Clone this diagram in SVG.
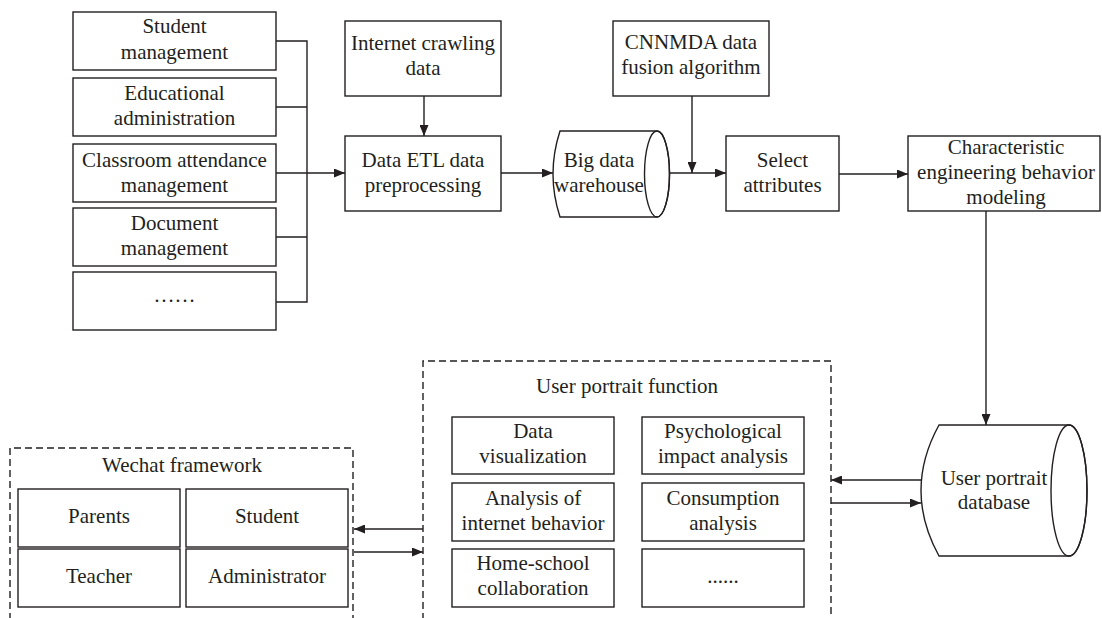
<svg xmlns="http://www.w3.org/2000/svg" width="1102" height="618" viewBox="0 0 1102 618">
<defs>
<marker id="arr" markerUnits="userSpaceOnUse" markerWidth="11" markerHeight="9" refX="11" refY="4.5" orient="auto">
<path d="M0,0 L11,4.5 L0,9 z" fill="#231f20"/>
</marker>
<style>
.box{fill:#fff;stroke:#231f20;stroke-width:1.4}
.dash{fill:none;stroke:#231f20;stroke-width:1.4;stroke-dasharray:7 4}
.ln{fill:none;stroke:#231f20;stroke-width:1.4}
.arw{fill:none;stroke:#231f20;stroke-width:1.4;marker-end:url(#arr)}
text{font-size:21px;fill:#231f20;text-anchor:middle}
</style>
</defs>
<rect width="1102" height="618" fill="#fff"/>

<g id="connectors">
<path class="ln" d="M276,41 H307 V302 H276 M276,107 H307 M276,237 H307"/>
<path class="arw" d="M276,173 H345"/>
<path class="arw" d="M424,96 V136"/>
<path class="arw" d="M501,173 H553"/>
<path class="arw" d="M670,173 H726"/>
<path class="arw" d="M692,96 V173"/>
<path class="arw" d="M839,174 H908"/>
<path class="arw" d="M986,211 V425"/>
<path class="arw" d="M921,480 H831"/>
<path class="arw" d="M831,503 H921"/>
<path class="arw" d="M423,529 H354"/>
<path class="arw" d="M354,552 H423"/>
</g>

<g font-family="'Liberation Serif', 'DejaVu Serif', serif">
<g id="student-management"><rect class="box" x="73" y="12" width="203" height="58"/><text x="174.5" y="33">Student</text><text x="174.5" y="59">management</text></g>
<g id="educational-administration"><rect class="box" x="73" y="78" width="203" height="58"/><text x="174.5" y="100">Educational</text><text x="174.5" y="125">administration</text></g>
<g id="classroom-attendance"><rect class="box" x="73" y="144" width="203" height="58"/><text x="174.5" y="167">Classroom attendance</text><text x="174.5" y="192">management</text></g>
<g id="document-management"><rect class="box" x="73" y="208" width="203" height="58"/><text x="174.5" y="230">Document</text><text x="174.5" y="255">management</text></g>
<g id="more-sources"><rect class="box" x="73" y="272" width="203" height="58"/><text x="174.5" y="302">……</text></g>

<g id="internet-crawling"><rect class="box" x="345" y="21" width="156" height="75"/><text x="423" y="50">Internet crawling</text><text x="423" y="75">data</text></g>
<g id="data-etl"><rect class="box" x="345" y="136" width="156" height="75"/><text x="423" y="167">Data ETL data</text><text x="423" y="192">preprocessing</text></g>

<g id="big-data-warehouse">
<path class="box" d="M560,131 L657,131 A12.5,43 0 0 1 657,217 L560,217 Q546,174 560,131 Z"/>
<ellipse class="ln" cx="657" cy="174" rx="12.5" ry="43"/>
<text x="599" y="167">Big data</text><text x="599" y="192">warehouse</text>
</g>

<g id="cnnmda"><rect class="box" x="613" y="21" width="156" height="75"/><text x="691" y="49">CNNMDA data</text><text x="691" y="74">fusion algorithm</text></g>
<g id="select-attributes"><rect class="box" x="726" y="136" width="113" height="75"/><text x="782.5" y="167">Select</text><text x="782.5" y="192">attributes</text></g>
<g id="characteristic-modeling"><rect class="box" x="908" y="136" width="192" height="75"/><text x="1006" y="154">Characteristic</text><text x="1006" y="179">engineering behavior</text><text x="1006" y="204">modeling</text></g>

<g id="user-portrait-database">
<path class="box" d="M939,425 L1069,425 A18,65.5 0 0 1 1069,556 L939,556 Q903,490.5 939,425 Z"/>
<ellipse class="ln" cx="1069" cy="490.5" rx="18" ry="65.5"/>
<text x="994" y="485">User portrait</text><text x="994" y="509">database</text>
</g>

<g id="user-portrait-function">
<path class="dash" d="M423,620 V361 H831 V620"/>
<text x="627" y="393">User portrait function</text>
<rect class="box" x="452" y="417" width="162" height="57"/><text x="533" y="438">Data</text><text x="533" y="463">visualization</text>
<rect class="box" x="642" y="417" width="162" height="57"/><text x="723" y="438">Psychological</text><text x="723" y="463">impact analysis</text>
<rect class="box" x="452" y="483" width="162" height="58"/><text x="533" y="505">Analysis of</text><text x="533" y="530">internet behavior</text>
<rect class="box" x="642" y="483" width="162" height="58"/><text x="723" y="505">Consumption</text><text x="723" y="530">analysis</text>
<rect class="box" x="452" y="549" width="162" height="58"/><text x="533" y="570">Home-school</text><text x="533" y="595">collaboration</text>
<rect class="box" x="642" y="549" width="162" height="58"/><text x="723" y="583">......</text>
</g>

<g id="wechat-framework">
<path class="dash" d="M10,620 V448 H353 V620"/>
<text x="182" y="472">Wechat framework</text>
<rect class="box" x="18" y="489" width="162" height="58"/><text x="99" y="523">Parents</text>
<rect class="box" x="186" y="489" width="162" height="58"/><text x="267" y="523">Student</text>
<rect class="box" x="18" y="549" width="162" height="58"/><text x="99" y="583">Teacher</text>
<rect class="box" x="186" y="549" width="162" height="58"/><text x="267" y="583">Administrator</text>
</g>
</g>
</svg>
